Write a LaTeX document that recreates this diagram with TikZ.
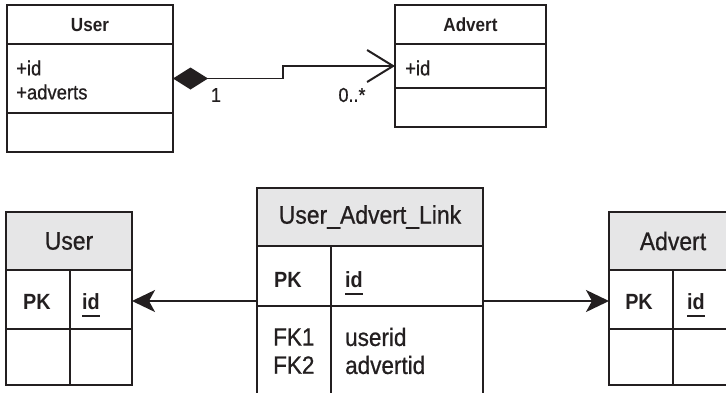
\documentclass[tikz,border=0pt]{standalone}
\usepackage{fontspec}
\setmainfont{Liberation Sans}[FakeStretch=0.9, UprightFeatures={FakeBold=0.7}]
\usetikzlibrary{arrows.meta}
\definecolor{ink}{HTML}{231F20}
\definecolor{hdrgray}{HTML}{E6E6E7}
\newcommand\ulid[1]{\setbox0\hbox{#1}\rlap{\smash{\rule[-8pt]{\wd0}{2pt}}}\box0}
\tikzset{
  box/.style={draw=ink, line width=1.7pt, inner sep=0pt, outer sep=0pt, anchor=north west},
  hdrbox/.style={box, fill=hdrgray},
  divider/.style={draw=ink, line width=1.7pt},
  conn/.style={draw=ink, line width=1.8pt},
  ctitle/.style={inner sep=0pt, text=ink, font=\bfseries\fontsize{19}{22}\selectfont},
  cattr/.style={inner sep=0pt, anchor=west, text=ink, font=\fontsize{20.5}{23}\selectfont},
  mult/.style={inner sep=0pt, text=ink, font=\fontsize{20}{23}\selectfont},
  ttitle/.style={inner sep=0pt, text=ink, font=\fontsize{25.5}{28}\selectfont},
  tkey/.style={inner sep=0pt, text=ink, font=\bfseries\fontsize{22}{25}\selectfont},
  tfield/.style={inner sep=0pt, anchor=west, text=ink, font=\fontsize{25}{28}\selectfont},
}
\begin{document}
\begin{tikzpicture}[x=1pt,y=-1pt]
\clip (0,0) rectangle (726,392);
\fill[white] (0,0) rectangle (726,392);

% ---------- UML classes ----------
\node[box, minimum width=166pt, minimum height=147pt] (userC) at (7,5) {};
\draw[divider] (7,44) -- (173,44);
\draw[divider] (7,113) -- (173,113);
\node[ctitle] (userCname) at (90,25) {User};
\node[cattr] (userCid) at (16,68) {+id};
\node[cattr] (userCadv) at (16,92) {+adverts};

\node[box, minimum width=151pt, minimum height=122pt] (advC) at (395,5) {};
\draw[divider] (395,44) -- (546,44);
\draw[divider] (395,88) -- (546,88);
\node[ctitle] (advCname) at (470.5,25) {Advert};
\node[cattr] (advCid) at (405,68) {+id};

\draw[conn, {Diamond[length=35pt,width=22pt,line width=0pt]}-{Straight Barb[length=26pt,width=32pt,line width=2pt]}]
  (userC.east) -- ++(110,0) |- (advC.west);
\node[mult] (m1) at (216,95) {1};
\node[mult] (m2) at (352,95) {0..*};

% ---------- ER tables ----------
\node[box, minimum width=126pt, minimum height=173pt] (userT) at (6,212) {};
\node[hdrbox, minimum width=126pt, minimum height=58pt] (userTh) at (6,212) {};
\draw[divider] (6,329) -- (132,329);
\draw[divider] (70,270) -- (70,385);
\node[ttitle] (userTname) at (69,241) {User};
\node[tkey, anchor=base] (userTpk) at (37,309) {PK};
\node[tkey, anchor=base] (userTid) at (91,309) {\ulid{id}};

\node[box, minimum width=226pt, minimum height=230pt] (linkT) at (257,188) {};
\node[hdrbox, minimum width=226pt, minimum height=58pt] (linkTh) at (257,188) {};
\draw[divider] (257,306) -- (483,306);
\draw[divider] (331,246) -- (331,400);
\node[ttitle] (linkTname) at (370,217) {User\_Advert\_Link};
\node[tkey, anchor=base] (linkTpk) at (288,287) {PK};
\node[tkey, anchor=base west] (linkTid) at (345,287) {\ulid{id}};
\node[tfield] (linkTfk1) at (273,337) {FK1};
\node[tfield] (linkTfk2) at (273,365) {FK2};
\node[tfield] (linkTuid) at (345,337) {userid};
\node[tfield] (linkTaid) at (345,365) {advertid};

\node[box, minimum width=128pt, minimum height=173pt] (advT) at (609,212) {};
\node[hdrbox, minimum width=128pt, minimum height=58pt] (advTh) at (609,212) {};
\draw[divider] (609,329) -- (737,329);
\draw[divider] (673,270) -- (673,385);
\node[ttitle] (advTname) at (673,241) {Advert};
\node[tkey, anchor=base] (advTpk) at (639,309) {PK};
\node[tkey, anchor=base west] (advTid) at (687,309) {\ulid{id}};

\coordinate (arrowY) at (0,301);
\draw[conn, -{Stealth[length=23pt,width=22pt,inset=6pt]}] (linkT.west |- arrowY) -- (userT.east |- arrowY);
\draw[conn, -{Stealth[length=23pt,width=22pt,inset=6pt]}] (linkT.east |- arrowY) -- (advT.west |- arrowY);
\end{tikzpicture}
\end{document}
